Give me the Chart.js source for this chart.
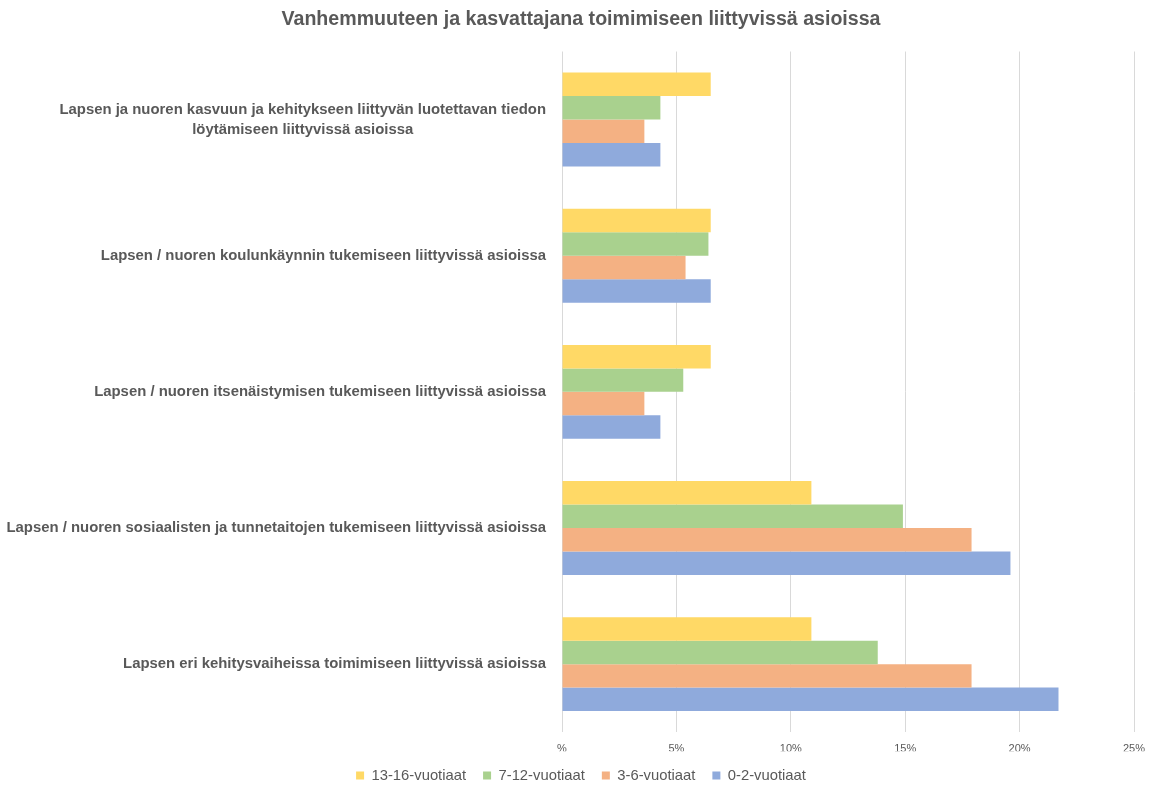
<!DOCTYPE html>
<html>
<head>
<meta charset="utf-8">
<script src="https://cdn.jsdelivr.net/npm/chart.js@4.4.1/dist/chart.umd.min.js"></script>
<style>
  html, body { margin: 0; padding: 0; background: #fff; }
  #wrap { width: 1152px; height: 785px; }
</style>
</head>
<body>
<div id="wrap"><canvas id="chart"></canvas></div>
<script>
// ================= DATA =================
const categories = [
  ["Lapsen ja nuoren kasvuun ja kehitykseen liittyvän luotettavan tiedon", "löytämiseen liittyvissä asioissa"],
  "Lapsen / nuoren koulunkäynnin tukemiseen liittyvissä asioissa",
  "Lapsen / nuoren itsenäistymisen tukemiseen liittyvissä asioissa",
  "Lapsen / nuoren sosiaalisten ja tunnetaitojen tukemiseen liittyvissä asioissa",
  "Lapsen eri kehitysvaiheissa toimimiseen liittyvissä asioissa"
];

const seriesNames = ["13-16-vuotiaat", "7-12-vuotiaat", "3-6-vuotiaat", "0-2-vuotiaat"];

const age13to16 = [6.5, 6.5, 6.5, 10.9, 10.9];
const age7to12 = [4.3, 6.4, 5.3, 14.9, 13.8];
const age3to6 = [3.6, 5.4, 3.6, 17.9, 17.9];
const age0to2 = [4.3, 6.5, 4.3, 19.6, 21.7];

const xTicks = [0, 5, 10, 15, 20, 25];

const colors = ["#FFD966", "#A9D18E", "#F4B183", "#8FAADC"];
const textColor = "#595959";
const fontFamily = "'Liberation Sans', Arial, sans-serif";

// ================= CATEGORY LABELS =================
// Excel puts wrapped labels centred on their widest line, right edge at the axis
const categoryLabels = {
  id: "categoryLabels",
  afterDraw(chart) {
    const ctx = chart.ctx;
    const yScale = chart.scales.y;
    const right = chart.chartArea.left - 16;
    const lineHeight = 20;

    ctx.save();
    ctx.font = "bold 14.9px " + fontFamily;
    ctx.fillStyle = textColor;
    ctx.textBaseline = "middle";
    ctx.textAlign = "center";

    categories.forEach((label, i) => {
      const lines = Array.isArray(label) ? label : [label];
      const maxW = Math.max(...lines.map(l => ctx.measureText(l).width));
      const cx = right - maxW / 2;
      const y0 = yScale.getPixelForTick(i) - (lines.length - 1) * lineHeight / 2;
      lines.forEach((line, j) => ctx.fillText(line, cx, y0 + j * lineHeight));
    });
    ctx.restore();
  }
};

// ================= CHART =================
const datasets = [age13to16, age7to12, age3to6, age0to2].map((values, i) => ({
  label: seriesNames[i],
  data: values,
  backgroundColor: colors[i],
  borderWidth: 0,
  categoryPercentage: 0.69,
  barPercentage: 1.0,
}));

new Chart(document.getElementById("chart"), {
  type: "bar",
  data: {
    labels: categories,
    datasets,
  },
  plugins: [categoryLabels],
  options: {
    indexAxis: "y",
    responsive: true,
    maintainAspectRatio: false,
    animation: false,
    layout: {
      padding: { left: 28, right: 18, top: 4, bottom: -8 },
    },
    scales: {
      x: {
        min: 0,
        max: 25,
        afterBuildTicks: (scale) => {
          scale.ticks = xTicks.map(v => ({ value: v }));
        },
        afterFit: (scale) => {
          scale.height = 19;
          scale.paddingLeft = 0;
          scale.paddingRight = 0;
        },
        grid: { color: "#D9D9D9", drawTicks: false },
        border: { display: false },
        ticks: {
          padding: 10,
          color: textColor,
          font: { family: fontFamily, size: 11 },
          callback: (v) => (v === 0 ? "%" : v + "%"),
        },
      },
      y: {
        grid: { display: false },
        border: { display: false },
        ticks: { display: false },
        afterFit: (scale) => {
          scale.width = 534;
        },
      },
    },
    plugins: {
      title: {
        display: true,
        text: "Vanhemmuuteen ja kasvattajana toimimiseen liittyvissä asioissa",
        color: textColor,
        font: { family: fontFamily, size: 19.6, weight: "bold" },
        padding: { top: 4, bottom: 20 },
      },
      legend: {
        position: "bottom",
        labels: {
          boxWidth: 8,
          boxHeight: 8,
          padding: 17,
          color: textColor,
          font: { family: fontFamily, size: 14.8 },
        },
      },
      tooltip: { enabled: false },
    },
  },
});
</script>
</body>
</html>
